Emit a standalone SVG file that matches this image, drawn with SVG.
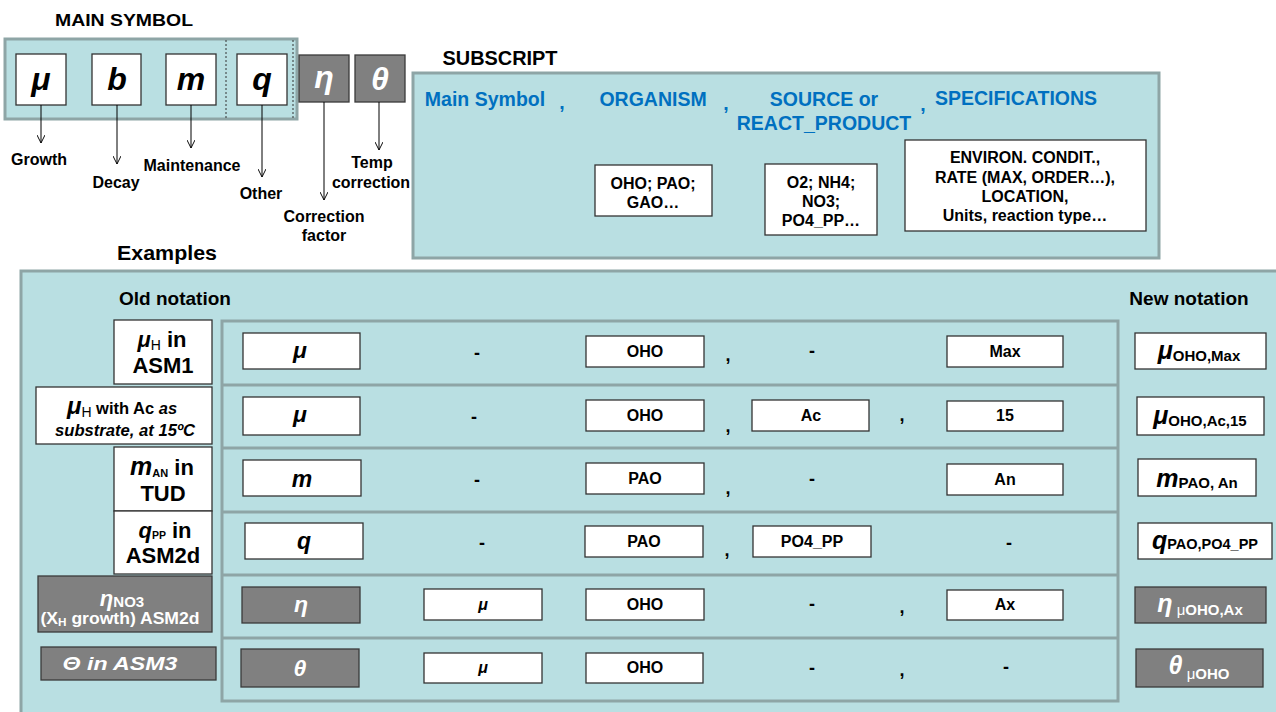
<svg xmlns="http://www.w3.org/2000/svg" width="1276" height="712" viewBox="0 0 1276 712">
<defs>
<marker id="arr" viewBox="0 0 10 10" refX="10" refY="5" markerWidth="8" markerHeight="8" markerUnits="userSpaceOnUse" orient="auto">
<path d="M0,0 L10,5 L0,10" fill="none" stroke="#000" stroke-width="1.2"/>
</marker>
</defs>
<style>
text{font-family:"Liberation Sans",Arial,sans-serif;font-weight:bold;fill:#000;text-anchor:middle}
.panel{fill:#b9dfe2;stroke:#8ea5a6;stroke-width:3}
.wbox{fill:#fff;stroke:#333;stroke-width:1.3}
.gbox{fill:#808080;stroke:#3a3a3a;stroke-width:1.3}
.sep{stroke:#8ea5a6;stroke-width:3}
.sym{font-size:32px;font-style:italic}
.wt{fill:#fff}
.lbl{font-size:16px}
.blue{fill:#0070c0;font-size:19.5px}
.sm{font-size:16px}
.tsym{font-size:23px;font-style:italic}
.dash{font-size:18px}
.cm{font-size:18px}
.old{font-size:22px}
.head{font-size:19px}
.conn{stroke:#000;stroke-width:1;fill:none;marker-end:url(#arr)}
</style>

<text x="124" y="26" font-size="17" textLength="138" lengthAdjust="spacingAndGlyphs">MAIN SYMBOL</text>
<g id="main-symbol-panel">
<rect class="panel" x="5" y="39" width="292" height="80"/>
<line x1="226" y1="40" x2="226" y2="118" stroke="#333" stroke-width="1" stroke-dasharray="2,2"/>
<line x1="293" y1="40" x2="293" y2="118" stroke="#333" stroke-width="1" stroke-dasharray="2,2"/>
</g>
<g id="sym-mu"><rect class="wbox" x="16" y="54" width="50" height="51"/><text class="sym" x="41" y="90">μ</text></g>
<g id="sym-b"><rect class="wbox" x="92" y="54" width="49" height="51"/><text class="sym" x="117" y="90">b</text></g>
<g id="sym-m"><rect class="wbox" x="166" y="54" width="50" height="51"/><text class="sym" x="191" y="90">m</text></g>
<g id="sym-q"><rect class="wbox" x="237" y="54" width="50" height="51"/><text class="sym" x="262" y="90">q</text></g>
<g id="sym-eta"><rect class="gbox" x="299" y="55" width="50" height="47"/><text class="sym wt" x="324" y="88">η</text></g>
<g id="sym-theta"><rect class="gbox" x="355" y="55" width="50" height="47"/><text class="sym wt" x="380" y="90">θ</text></g>

<g id="connectors">
<line class="conn" x1="41" y1="105" x2="41" y2="143"/>
<line class="conn" x1="117" y1="105" x2="117" y2="164"/>
<line class="conn" x1="191" y1="105" x2="191" y2="148"/>
<line class="conn" x1="262" y1="105" x2="262" y2="177"/>
<line class="conn" x1="324" y1="102" x2="324" y2="200"/>
<line class="conn" x1="379" y1="102" x2="379" y2="150"/>
</g>

<g id="labels-main">
<text class="lbl" x="39" y="165">Growth</text>
<text class="lbl" x="116" y="188">Decay</text>
<text class="lbl" x="192" y="171">Maintenance</text>
<text class="lbl" x="261" y="199">Other</text>
<text class="lbl" x="324" y="222">Correction</text>
<text class="lbl" x="324" y="241">factor</text>
<text class="lbl" x="372" y="168">Temp</text>
<text class="lbl" x="371" y="188">correction</text>
</g>

<text x="500" y="65" font-size="20" textLength="115" lengthAdjust="spacingAndGlyphs">SUBSCRIPT</text>
<g id="subscript-panel">
<rect class="panel" x="413" y="73" width="746" height="185"/>
<text class="blue" x="485" y="106">Main Symbol</text>
<text class="blue" x="562" y="109">,</text>
<text class="blue" x="653" y="106">ORGANISM</text>
<text class="blue" x="726" y="110">,</text>
<text class="blue" x="824" y="106">SOURCE or</text>
<text class="blue" x="824" y="130">REACT_PRODUCT</text>
<text class="blue" x="923" y="111">,</text>
<text class="blue" x="1016" y="105">SPECIFICATIONS</text>
</g>
<g id="sub-organism"><rect class="wbox" x="595" y="165" width="117" height="51"/>
<text class="sm" x="653" y="189">OHO; PAO;</text><text class="sm" x="653" y="208">GAO…</text></g>
<g id="sub-source"><rect class="wbox" x="765" y="164" width="112" height="71"/>
<text class="sm" x="821" y="188">O2; NH4;</text><text class="sm" x="821" y="207">NO3;</text><text class="sm" x="821" y="226">PO4_PP…</text></g>
<g id="sub-spec"><rect class="wbox" x="905" y="140" width="241" height="91"/>
<text class="sm" x="1025" y="163">ENVIRON. CONDIT.,</text>
<text class="sm" x="1025" y="183">RATE (MAX, ORDER…),</text>
<text class="sm" x="1025" y="202">LOCATION,</text>
<text class="sm" x="1025" y="221">Units, reaction type…</text></g>

<text x="167" y="260" font-size="20" textLength="100" lengthAdjust="spacingAndGlyphs">Examples</text>
<g id="examples-panel">
<rect class="panel" x="21" y="271" width="1262" height="445"/>
<text class="head" x="175" y="305">Old notation</text>
<text class="head" x="1189" y="305">New notation</text>
<rect class="panel" x="222" y="321" width="896" height="380"/>
<line class="sep" x1="222" y1="385" x2="1118" y2="385"/>
<line class="sep" x1="222" y1="448" x2="1118" y2="448"/>
<line class="sep" x1="222" y1="512" x2="1118" y2="512"/>
<line class="sep" x1="222" y1="575" x2="1118" y2="575"/>
<line class="sep" x1="222" y1="638" x2="1118" y2="638"/>
</g>

<g id="old-1"><rect class="wbox" x="114" y="320" width="98" height="64"/>
<text class="old" x="162" y="347"><tspan font-style="italic">μ</tspan><tspan font-size="14" font-weight="normal" dy="3">H</tspan><tspan dy="-3"> in</tspan></text>
<text class="old" x="163" y="373">ASM1</text></g>
<g id="old-2"><rect class="wbox" x="36" y="387" width="176" height="57"/>
<text x="122" y="414" font-size="16.5"><tspan font-size="24" font-style="italic">μ</tspan><tspan font-size="14" font-weight="normal" dy="3">H</tspan><tspan dy="-3"> with Ac </tspan><tspan font-style="italic">as</tspan></text>
<text x="125" y="436" font-size="17" font-style="italic" textLength="140" lengthAdjust="spacingAndGlyphs">substrate, at 15ºC</text></g>
<g id="old-3"><rect class="wbox" x="114" y="447" width="98" height="64"/>
<text class="old" x="162" y="475"><tspan font-style="italic" font-size="25">m</tspan><tspan font-size="11" dy="2">AN</tspan><tspan dy="-2"> in</tspan></text>
<text class="old" x="163" y="501">TUD</text></g>
<g id="old-4"><rect class="wbox" x="114" y="511" width="98" height="63"/>
<text class="old" x="165" y="538"><tspan font-style="italic">q</tspan><tspan font-size="10.5" dy="1">PP</tspan><tspan dy="-1"> in</tspan></text>
<text class="old" x="163" y="563">ASM2d</text></g>
<g id="old-5"><rect class="gbox" x="38" y="576" width="174" height="56"/>
<text class="wt" x="122" y="606" font-size="22"><tspan font-style="italic">η</tspan><tspan font-size="15" dy="1">NO3</tspan></text>
<text class="wt" x="120" y="624" font-size="16.5" textLength="159" lengthAdjust="spacingAndGlyphs">(X<tspan font-size="11" dy="2">H</tspan><tspan dy="-2"> growth) ASM2d</tspan></text></g>
<g id="old-6"><rect class="gbox" x="41" y="647" width="175" height="33"/>
<text class="wt" x="120" y="670" font-size="18.5" font-style="italic" textLength="115" lengthAdjust="spacingAndGlyphs">Θ in ASM3</text></g>

<g id="row1">
<rect class="wbox" x="243" y="333" width="117" height="36"/><text class="tsym" x="300" y="358">μ</text>
<text class="dash" x="477" y="359">-</text>
<rect class="wbox" x="586" y="336" width="118" height="31"/><text class="sm" x="645" y="357">OHO</text>
<text class="cm" x="728" y="361">,</text>
<text class="dash" x="812" y="357">-</text>
<rect class="wbox" x="947" y="336" width="116" height="31"/><text class="sm" x="1005" y="357">Max</text>
</g>
<g id="row2">
<rect class="wbox" x="243" y="397" width="117" height="38"/><text class="tsym" x="300" y="422">μ</text>
<text class="dash" x="474" y="423">-</text>
<rect class="wbox" x="586" y="400" width="118" height="31"/><text class="sm" x="645" y="421">OHO</text>
<text class="cm" x="728" y="432">,</text>
<rect class="wbox" x="752" y="400" width="117" height="31"/><text class="sm" x="811" y="421">Ac</text>
<text class="cm" x="902" y="421">,</text>
<rect class="wbox" x="947" y="401" width="116" height="30"/><text class="sm" x="1005" y="421">15</text>
</g>
<g id="row3">
<rect class="wbox" x="243" y="460" width="118" height="36"/><text class="tsym" x="302" y="487">m</text>
<text class="dash" x="477" y="486">-</text>
<rect class="wbox" x="586" y="463" width="118" height="31"/><text class="sm" x="645" y="484">PAO</text>
<text class="cm" x="728" y="494">,</text>
<text class="dash" x="812" y="485">-</text>
<rect class="wbox" x="947" y="464" width="116" height="31"/><text class="sm" x="1005" y="485">An</text>
</g>
<g id="row4">
<rect class="wbox" x="245" y="523" width="118" height="36"/><text class="tsym" x="304" y="549">q</text>
<text class="dash" x="482" y="549">-</text>
<rect class="wbox" x="585" y="526" width="118" height="31"/><text class="sm" x="644" y="547">PAO</text>
<text class="cm" x="727" y="556">,</text>
<rect class="wbox" x="753" y="526" width="118" height="31"/><text class="sm" x="812" y="547">PO4_PP</text>
<text class="dash" x="1009" y="549">-</text>
</g>
<g id="row5">
<rect class="gbox" x="242" y="587" width="118" height="36"/><text class="tsym wt" x="301" y="612">η</text>
<rect class="wbox" x="424" y="589" width="118" height="31"/><text class="sm" x="483" y="610" font-style="italic">μ</text>
<rect class="wbox" x="586" y="589" width="118" height="31"/><text class="sm" x="645" y="610">OHO</text>
<text class="dash" x="812" y="610">-</text>
<text class="cm" x="902" y="613">,</text>
<rect class="wbox" x="947" y="590" width="116" height="30"/><text class="sm" x="1005" y="610">Ax</text>
</g>
<g id="row6">
<rect class="gbox" x="241" y="649" width="118" height="38"/><text class="tsym wt" x="300" y="676">θ</text>
<rect class="wbox" x="424" y="653" width="118" height="30"/><text class="sm" x="483" y="673" font-style="italic">μ</text>
<rect class="wbox" x="586" y="653" width="117" height="30"/><text class="sm" x="645" y="673">OHO</text>
<text class="dash" x="812" y="674">-</text>
<text class="cm" x="902" y="676">,</text>
<text class="dash" x="1006" y="673">-</text>
</g>

<g id="new-1"><rect class="wbox" x="1135" y="333" width="131" height="36"/>
<text x="1199" y="359" font-size="25"><tspan font-style="italic">μ</tspan><tspan font-size="15" dy="2">OHO,Max</tspan></text></g>
<g id="new-2"><rect class="wbox" x="1137" y="397" width="127" height="38"/>
<text x="1200" y="424" font-size="25"><tspan font-style="italic">μ</tspan><tspan font-size="15" dy="2">OHO,Ac,15</tspan></text></g>
<g id="new-3"><rect class="wbox" x="1138" y="459" width="118" height="37"/>
<text x="1197" y="487" font-size="25"><tspan font-style="italic">m</tspan><tspan font-size="15" dy="1">PAO, An</tspan></text></g>
<g id="new-4"><rect class="wbox" x="1138" y="523" width="134" height="36"/>
<text x="1205" y="549" font-size="25"><tspan font-style="italic">q</tspan><tspan font-size="14.5">PAO,PO4_PP</tspan></text></g>
<g id="new-5"><rect class="gbox" x="1135" y="587" width="131" height="36"/>
<text class="wt" x="1200" y="612" font-size="25"><tspan font-style="italic">η</tspan><tspan font-size="15" font-weight="normal" dy="3"> μ</tspan><tspan font-size="15">OHO,Ax</tspan></text></g>
<g id="new-6"><rect class="gbox" x="1136" y="649" width="127" height="38"/>
<text class="wt" x="1199" y="674" font-size="25"><tspan font-style="italic">θ</tspan><tspan font-size="15" font-weight="normal" dy="5"> μ</tspan><tspan font-size="15">OHO</tspan></text></g>
</svg>
